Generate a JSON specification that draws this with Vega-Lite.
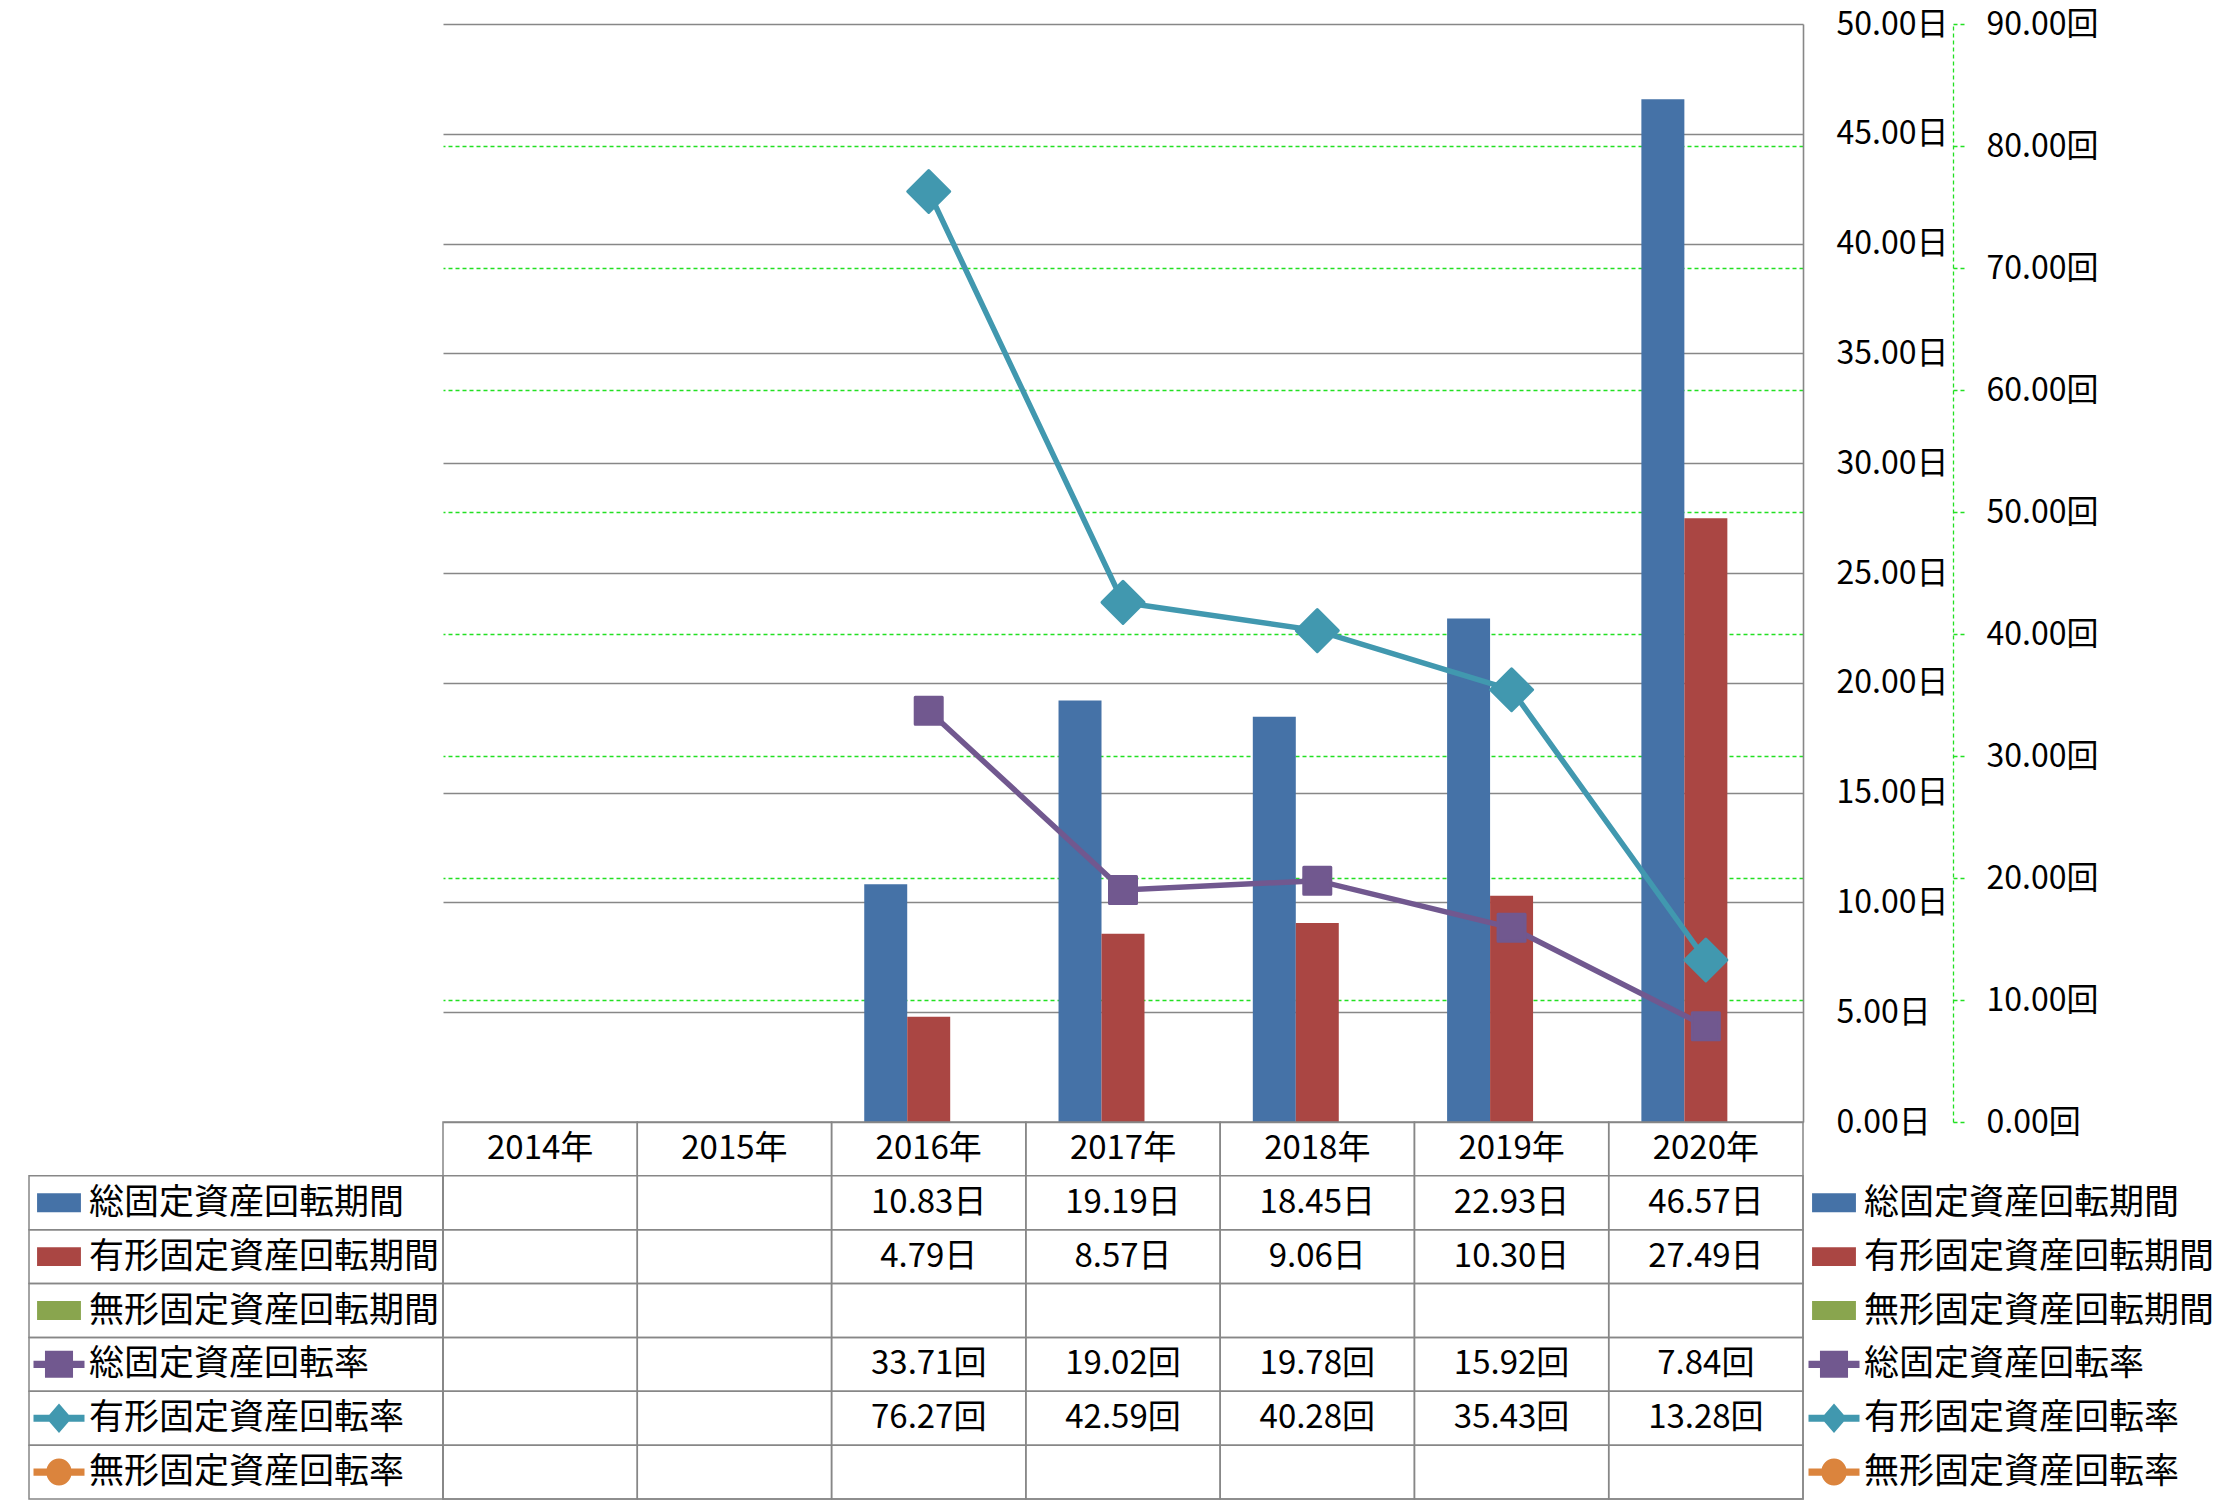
{
  "$schema": "https://vega.github.io/schema/vega-lite/v6.json",
  "padding": {"left": 28, "top": 8, "right": 0, "bottom": 0},
  "background": "white",
  "config": {
    "view": {"stroke": null},
    "font": "Noto Sans CJK JP",
    "text": {"font": "Noto Sans CJK JP"}
  },
  "datasets": {
    "values": [
      {"year": "2016", "series": "総固定資産回転期間", "kind": "days", "unit": "日", "value": 10.83},
      {"year": "2017", "series": "総固定資産回転期間", "kind": "days", "unit": "日", "value": 19.19},
      {"year": "2018", "series": "総固定資産回転期間", "kind": "days", "unit": "日", "value": 18.45},
      {"year": "2019", "series": "総固定資産回転期間", "kind": "days", "unit": "日", "value": 22.93},
      {"year": "2020", "series": "総固定資産回転期間", "kind": "days", "unit": "日", "value": 46.57},
      {"year": "2016", "series": "有形固定資産回転期間", "kind": "days", "unit": "日", "value": 4.79},
      {"year": "2017", "series": "有形固定資産回転期間", "kind": "days", "unit": "日", "value": 8.57},
      {"year": "2018", "series": "有形固定資産回転期間", "kind": "days", "unit": "日", "value": 9.06},
      {"year": "2019", "series": "有形固定資産回転期間", "kind": "days", "unit": "日", "value": 10.30},
      {"year": "2020", "series": "有形固定資産回転期間", "kind": "days", "unit": "日", "value": 27.49},
      {"year": "2016", "series": "総固定資産回転率", "kind": "rate", "unit": "回", "value": 33.71},
      {"year": "2017", "series": "総固定資産回転率", "kind": "rate", "unit": "回", "value": 19.02},
      {"year": "2018", "series": "総固定資産回転率", "kind": "rate", "unit": "回", "value": 19.78},
      {"year": "2019", "series": "総固定資産回転率", "kind": "rate", "unit": "回", "value": 15.92},
      {"year": "2020", "series": "総固定資産回転率", "kind": "rate", "unit": "回", "value": 7.84},
      {"year": "2016", "series": "有形固定資産回転率", "kind": "rate", "unit": "回", "value": 76.27},
      {"year": "2017", "series": "有形固定資産回転率", "kind": "rate", "unit": "回", "value": 42.59},
      {"year": "2018", "series": "有形固定資産回転率", "kind": "rate", "unit": "回", "value": 40.28},
      {"year": "2019", "series": "有形固定資産回転率", "kind": "rate", "unit": "回", "value": 35.43},
      {"year": "2020", "series": "有形固定資産回転率", "kind": "rate", "unit": "回", "value": 13.28}
    ],
    "years": [
      {"year": "2014"}, {"year": "2015"}, {"year": "2016"}, {"year": "2017"},
      {"year": "2018"}, {"year": "2019"}, {"year": "2020"}
    ],
    "series": [
      {"series": "総固定資産回転期間"},
      {"series": "有形固定資産回転期間"},
      {"series": "無形固定資産回転期間"},
      {"series": "総固定資産回転率"},
      {"series": "有形固定資産回転率"},
      {"series": "無形固定資産回転率"}
    ]
  },
  "columns": 3,
  "spacing": 0,
  "bounds": "flush",
  "concat": [
    {
      "width": 414,
      "height": 1098,
      "data": {"values": []},
      "mark": "point"
    },
    {
      "width": 1360,
      "height": 1098,
      "data": {"name": "values"},
      "layer": [
        {
          "transform": [{"filter": "datum.kind === 'days'"}],
          "mark": {"type": "bar"},
          "encoding": {
            "x": {
              "field": "year", "type": "nominal",
              "scale": {"domain": ["2014", "2015", "2016", "2017", "2018", "2019", "2020"], "paddingInner": 0, "paddingOuter": 0},
              "axis": null
            },
            "xOffset": {
              "field": "series", "type": "nominal",
              "scale": {"domain": ["総固定資産回転期間", "有形固定資産回転期間", "無形固定資産回転期間"], "paddingInner": 0, "paddingOuter": 0.76}
            },
            "y": {
              "field": "value", "type": "quantitative",
              "scale": {"domain": [0, 50], "nice": false, "zero": true},
              "axis": {
                "orient": "right", "title": null,
                "values": [0, 5, 10, 15, 20, 25, 30, 35, 40, 45, 50],
                "labelExpr": "format(datum.value, '.2f') + '日'",
                "grid": true, "gridColor": "#878787", "gridWidth": 1.4,
                "domain": true, "domainColor": "#878787", "domainWidth": 1.6,
                "ticks": false, "tickSize": 0,
                "labelPadding": 33, "labelAlign": "left", "labelBaseline": "middle",
                "labelFontSize": 32, "labelColor": "#000000", "labelFont": "Noto Sans CJK JP",
                "labelFlush": false, "labelOverlap": false
              }
            },
            "color": {
              "field": "series", "type": "nominal", "legend": null,
              "scale": {
                "domain": ["総固定資産回転期間", "有形固定資産回転期間", "無形固定資産回転期間", "総固定資産回転率", "有形固定資産回転率", "無形固定資産回転率"],
                "range": ["#4572A7", "#AA4643", "#89A54E", "#71588F", "#4198AF", "#DB843D"]
              }
            }
          }
        },
        {
          "transform": [{"filter": "datum.kind === 'rate'"}],
          "encoding": {
            "x": {"field": "year", "type": "nominal"},
            "y": {
              "field": "value", "type": "quantitative",
              "scale": {"domain": [0, 90], "nice": false, "zero": true},
              "axis": {
                "orient": "right", "offset": 150, "title": null,
                "values": [0, 10, 20, 30, 40, 50, 60, 70, 80, 90],
                "labelExpr": "format(datum.value, '.2f') + '回'",
                "grid": true, "gridColor": "#22E022", "gridDash": [4, 3], "gridWidth": 1.3,
                "gridOpacity": {"condition": {"test": "datum.value === 90 || datum.value === 0", "value": 0}, "value": 1},
                "domain": true, "domainColor": "#22E022", "domainDash": [4, 3], "domainWidth": 1.3,
                "ticks": true, "tickColor": "#22E022", "tickDash": [4, 3], "tickSize": 11, "tickWidth": 1.3,
                "labelPadding": 22, "labelAlign": "left", "labelBaseline": "middle",
                "labelFontSize": 32, "labelColor": "#000000", "labelFont": "Noto Sans CJK JP",
                "labelFlush": false, "labelOverlap": false
              }
            },
            "color": {
              "field": "series", "type": "nominal", "legend": null,
              "scale": {
                "domain": ["総固定資産回転期間", "有形固定資産回転期間", "無形固定資産回転期間", "総固定資産回転率", "有形固定資産回転率", "無形固定資産回転率"],
                "range": ["#4572A7", "#AA4643", "#89A54E", "#71588F", "#4198AF", "#DB843D"]
              }
            }
          },
          "layer": [
            {"mark": {"type": "line", "strokeWidth": 5.5}},
            {
              "transform": [{"filter": "datum.series === '総固定資産回転率'"}],
              "mark": {"type": "point", "shape": "square", "size": 729, "filled": true, "opacity": 1, "stroke": "#71588F", "strokeWidth": 3, "strokeJoin": "round"}
            },
            {
              "transform": [{"filter": "datum.series === '有形固定資産回転率'"}],
              "mark": {"type": "point", "shape": "diamond", "size": 1764, "filled": true, "opacity": 1, "stroke": "#4198AF", "strokeWidth": 3, "strokeJoin": "round"}
            }
          ]
        }
      ],
      "resolve": {"scale": {"y": "independent"}}
    },
    {
      "width": 410,
      "height": 1098,
      "data": {"values": []},
      "mark": "point"
    },
    {
      "width": 414,
      "height": 377,
      "data": {"name": "series"},
      "encoding": {
        "y": {
          "field": "series", "type": "nominal", "axis": null,
          "scale": {"domain": ["header", "総固定資産回転期間", "有形固定資産回転期間", "無形固定資産回転期間", "総固定資産回転率", "有形固定資産回転率", "無形固定資産回転率"], "paddingInner": 0, "paddingOuter": 0}
        }
      },
      "layer": [
        {"mark": {"type": "rect", "filled": false, "color": "#878787", "strokeWidth": 1.5}},
        {
          "mark": {"type": "point", "filled": true, "size": 2601, "opacity": 1, "strokeWidth": 0},
          "encoding": {
            "x": {"datum": "sym", "type": "nominal", "axis": null, "scale": {"type": "point", "domain": ["sym", "lab"], "range": [30, 60], "padding": 0}},
            "shape": {
              "field": "series", "type": "nominal", "legend": null,
              "scale": {
                "domain": ["総固定資産回転期間", "有形固定資産回転期間", "無形固定資産回転期間", "総固定資産回転率", "有形固定資産回転率", "無形固定資産回転率"],
                "range": [
                  "M-0.86,-0.37H0.86V0.37H-0.86Z",
                  "M-0.86,-0.37H0.86V0.37H-0.86Z",
                  "M-0.86,-0.37H0.86V0.37H-0.86Z",
                  "M-1,-0.14H1V0.14H-1ZM-0.55,-0.53H0.55V0.53H-0.55Z",
                  "M-1,-0.14H1V0.14H-1ZM0,-0.58L0.5,0L0,0.58L-0.5,0Z",
                  "M-1,-0.14H1V0.14H-1ZM-0.5,0A0.5,0.53 0 1,1 0.5,0A0.5,0.53 0 1,1 -0.5,0Z"
                ]
              }
            },
            "color": {
              "field": "series", "type": "nominal", "legend": null,
              "scale": {
                "domain": ["総固定資産回転期間", "有形固定資産回転期間", "無形固定資産回転期間", "総固定資産回転率", "有形固定資産回転率", "無形固定資産回転率"],
                "range": ["#4572A7", "#AA4643", "#89A54E", "#71588F", "#4198AF", "#DB843D"]
              }
            }
          }
        },
        {
          "mark": {"type": "text", "align": "left", "baseline": "middle", "fontSize": 35, "color": "#000000", "font": "Noto Sans CJK JP"},
          "encoding": {
            "x": {"datum": "lab", "type": "nominal"},
            "text": {"field": "series"}
          }
        }
      ]
    },
    {
      "width": 1360,
      "height": 377,
      "layer": [
        {
          "data": {"name": "years"},
          "mark": {"type": "rect", "filled": false, "color": "#878787", "strokeWidth": 1.5},
          "encoding": {
            "x": {
              "field": "year", "type": "nominal", "axis": null,
              "scale": {"domain": ["2014", "2015", "2016", "2017", "2018", "2019", "2020"], "paddingInner": 0, "paddingOuter": 0}
            }
          }
        },
        {
          "data": {"name": "series"},
          "mark": {"type": "rect", "filled": false, "color": "#878787", "strokeWidth": 1.5},
          "encoding": {
            "y": {
              "field": "series", "type": "nominal", "axis": null,
              "scale": {"domain": ["header", "総固定資産回転期間", "有形固定資産回転期間", "無形固定資産回転期間", "総固定資産回転率", "有形固定資産回転率", "無形固定資産回転率"], "paddingInner": 0, "paddingOuter": 0}
            }
          }
        },
        {
          "data": {"name": "years"},
          "transform": [{"calculate": "datum.year + '年'", "as": "yl"}],
          "mark": {"type": "text", "align": "center", "baseline": "middle", "fontSize": 33, "color": "#000000", "font": "Noto Sans CJK JP"},
          "encoding": {
            "x": {"field": "year", "type": "nominal"},
            "y": {"datum": "header", "type": "nominal"},
            "text": {"field": "yl"}
          }
        },
        {
          "data": {"name": "values"},
          "transform": [{"calculate": "format(datum.value, '.2f') + datum.unit", "as": "label"}],
          "mark": {"type": "text", "align": "center", "baseline": "middle", "fontSize": 33, "color": "#000000", "font": "Noto Sans CJK JP"},
          "encoding": {
            "x": {"field": "year", "type": "nominal"},
            "y": {"field": "series", "type": "nominal"},
            "text": {"field": "label"}
          }
        }
      ]
    },
    {
      "width": 410,
      "height": 377,
      "data": {"name": "series"},
      "encoding": {
        "y": {
          "field": "series", "type": "nominal", "axis": null,
          "scale": {"domain": ["header", "総固定資産回転期間", "有形固定資産回転期間", "無形固定資産回転期間", "総固定資産回転率", "有形固定資産回転率", "無形固定資産回転率"], "paddingInner": 0, "paddingOuter": 0}
        }
      },
      "layer": [
        {
          "mark": {"type": "point", "filled": true, "size": 2601, "opacity": 1, "strokeWidth": 0},
          "encoding": {
            "x": {"datum": "sym", "type": "nominal", "axis": null, "scale": {"type": "point", "domain": ["sym", "lab"], "range": [31, 61], "padding": 0}},
            "shape": {
              "field": "series", "type": "nominal", "legend": null,
              "scale": {
                "domain": ["総固定資産回転期間", "有形固定資産回転期間", "無形固定資産回転期間", "総固定資産回転率", "有形固定資産回転率", "無形固定資産回転率"],
                "range": [
                  "M-0.86,-0.37H0.86V0.37H-0.86Z",
                  "M-0.86,-0.37H0.86V0.37H-0.86Z",
                  "M-0.86,-0.37H0.86V0.37H-0.86Z",
                  "M-1,-0.14H1V0.14H-1ZM-0.55,-0.53H0.55V0.53H-0.55Z",
                  "M-1,-0.14H1V0.14H-1ZM0,-0.58L0.5,0L0,0.58L-0.5,0Z",
                  "M-1,-0.14H1V0.14H-1ZM-0.5,0A0.5,0.53 0 1,1 0.5,0A0.5,0.53 0 1,1 -0.5,0Z"
                ]
              }
            },
            "color": {
              "field": "series", "type": "nominal", "legend": null,
              "scale": {
                "domain": ["総固定資産回転期間", "有形固定資産回転期間", "無形固定資産回転期間", "総固定資産回転率", "有形固定資産回転率", "無形固定資産回転率"],
                "range": ["#4572A7", "#AA4643", "#89A54E", "#71588F", "#4198AF", "#DB843D"]
              }
            }
          }
        },
        {
          "mark": {"type": "text", "align": "left", "baseline": "middle", "fontSize": 35, "color": "#000000", "font": "Noto Sans CJK JP"},
          "encoding": {
            "x": {"datum": "lab", "type": "nominal"},
            "text": {"field": "series"}
          }
        }
      ]
    }
  ]
}
